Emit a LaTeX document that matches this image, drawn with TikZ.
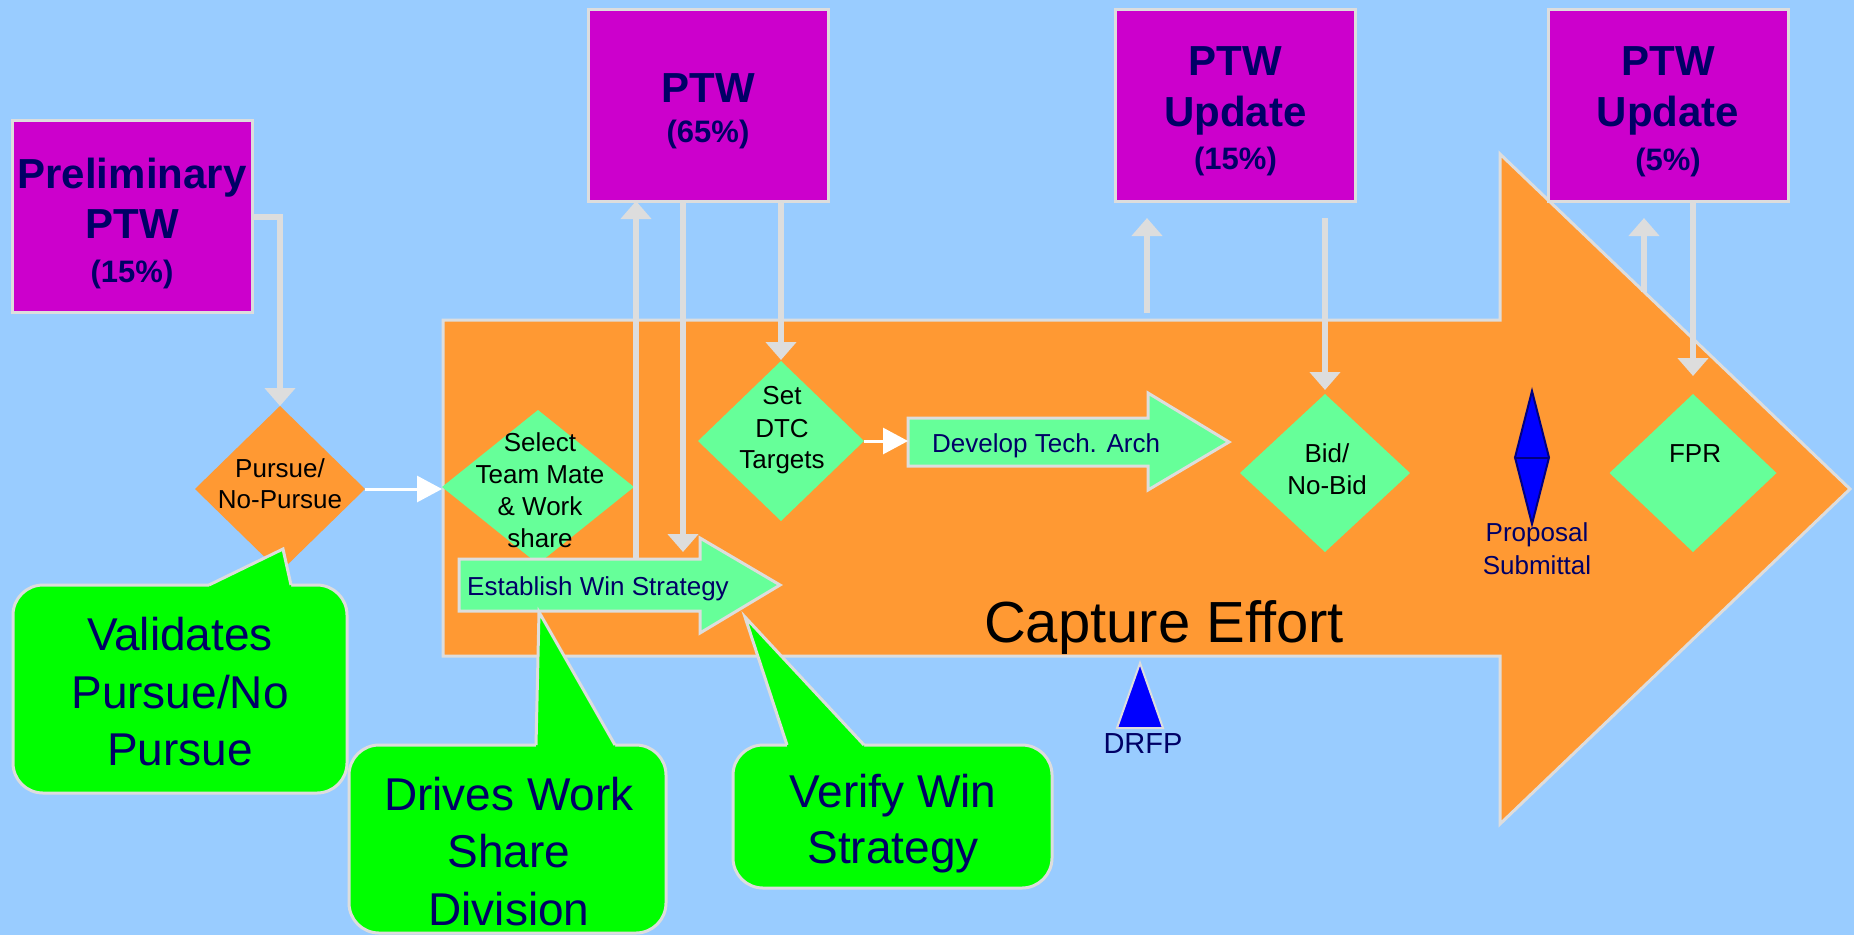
\documentclass[tikz,border=0pt]{standalone}
\usepackage{fontspec}
\setmainfont{Liberation Sans}
\usetikzlibrary{arrows.meta,shapes.geometric}
\definecolor{bgblue}{HTML}{99CCFF}
\definecolor{ptwmag}{HTML}{CC00CC}
\definecolor{capor}{HTML}{FF9933}
\definecolor{stepgreen}{HTML}{66FF99}
\definecolor{notegreen}{HTML}{00FF00}
\definecolor{ink}{HTML}{000066}
\definecolor{rim}{HTML}{DDDDDD}
\definecolor{pblue}{HTML}{0000FF}
\definecolor{pnavy}{HTML}{000080}

\begin{document}
\begin{tikzpicture}[x=1pt,y=-1pt,
  ptwbox/.style={draw=rim, line width=3pt, fill=ptwmag, minimum width=240pt,
    minimum height=192pt, inner sep=0pt, outer sep=0pt},
  gate/.style={diamond, inner sep=0pt, outer sep=0pt},
  flow/.style={draw=rim, line width=6pt, -{Triangle[length=18pt,width=30pt]}},
  feed/.style={draw=white, line width=3pt, -{Triangle[length=25pt,width=26pt]}},
  rimline/.style={draw=rim, line width=3pt, line join=miter},
  big/.style={font=\fontsize{42}{42}\selectfont\bfseries, text=ink, inner sep=0pt, anchor=base},
  pct/.style={font=\fontsize{31}{31}\selectfont\bfseries, text=ink, inner sep=0pt, anchor=base},
  small/.style={font=\fontsize{26}{26}\selectfont, inner sep=0pt, anchor=base},
  note/.style={font=\fontsize{46}{46}\selectfont, text=ink, inner sep=0pt, anchor=base},
  notebox/.style={draw=rim, line width=3pt, fill=notegreen, rounded corners=30pt},
]
\useasboundingbox (0,0) rectangle (1854,935);
\fill[bgblue] (0,0) rectangle (1854,935);

% capture effort block arrow
\draw[rimline, fill=capor] (443,320) -- (1500,320) -- (1500,154) -- (1850,489)
  -- (1500,824) -- (1500,656) -- (443,656) -- cycle;

% PTW boxes
\node[ptwbox] (pre) at (132,216.5) {};
\node[ptwbox] (p65) at (708,105) {};
\node[ptwbox] (p15) at (1235.5,105) {};
\node[ptwbox] (p5)  at (1668,105) {};

% decision diamonds
\node[gate, fill=capor, minimum width=170pt, minimum height=166pt] (pur) at (280,489) {};
\node[gate, fill=stepgreen, minimum width=192pt, minimum height=154pt] (sel) at (538,487) {};
\node[gate, fill=stepgreen, minimum width=166pt, minimum height=160pt] (dtc) at (781,441) {};
\node[gate, fill=stepgreen, minimum width=170pt, minimum height=158pt] (bid) at (1325,473) {};
\node[gate, fill=stepgreen, minimum width=167pt, minimum height=158pt] (fpr) at (1693,473) {};

% proposal submittal marker
\node[gate, draw=pnavy, line width=2pt, fill=pblue, minimum width=34pt, minimum height=133pt] (ps) at (1532,457.5) {};
\draw[pnavy, line width=2pt] (ps.west) -- (ps.east);

% DRFP marker
\draw[draw=rim, line width=2pt, fill=pblue] (1140,663) -- (1163,728) -- (1117,728) -- cycle;

% activity arrows
\draw[rimline, fill=stepgreen] (459,559) -- (700,559) -- (700,538) -- (780,585)
  -- (700,633) -- (700,611) -- (459,611) -- cycle;
\draw[rimline, fill=stepgreen] (908,418) -- (1148,418) -- (1148,393) -- (1229,442)
  -- (1148,490) -- (1148,466) -- (908,466) -- cycle;
\coordinate (estA) at (636,559);
\coordinate (estB) at (683,559);
\coordinate (devA) at (908,442);
\coordinate (u15) at (1147,313);
\coordinate (u5) at (1644,292);

% connectors
\draw[flow] (pre.east) -| (pur.north);
\draw[feed] (pur.east) -- (pur.east -| sel.west);
\draw[flow] (estA) -- (estA |- p65.south);
\draw[flow, shorten >=7pt] (estB |- p65.south) -- (estB);
\draw[flow, shorten >=1pt] (dtc.north |- p65.south) -- (dtc.north);
\draw[feed] (dtc.east) -- (dtc.east -| devA);
\draw[flow, shorten >=17pt] (u15) -- (u15 |- p15.south);
\draw[flow, shorten <=17pt, shorten >=4pt] (bid.north |- p15.south) -- (bid.north);
\draw[flow, shorten >=17pt] (u5) -- (u5 |- p5.south);
\draw[flow, shorten >=18pt] (fpr.north |- p5.south) -- (fpr.north);

% callouts
\draw[notebox] (13,585) rectangle (347,793);
\fill[notegreen] (209,585) -- (283,549) -- (291,585) -- (291,592) -- (209,592) -- cycle;
\draw[rimline] (209,585) -- (283,549) -- (291,585);

\draw[notebox] (349,745) rectangle (666,933);
\fill[notegreen] (536,745) -- (539,612) -- (615,745) -- (615,752) -- (536,752) -- cycle;
\draw[rimline] (536,745) -- (539,612) -- (615,745);

\draw[notebox] (733,745) rectangle (1052,888);
\fill[notegreen] (787,745) -- (745,617) -- (864,745) -- (864,752) -- (787,752) -- cycle;
\draw[rimline] (787,745) -- (745,617) -- (864,745);

% box texts
\node[big] (preA) at (132,188) {Preliminary};
\node[big] (preB) at (132,238) {PTW};
\node[pct] (preC) at (132,282) {(15\%)};
\node[big] (p65A) at (708,102) {PTW};
\node[pct] (p65B) at (708,142) {(65\%)};
\node[big] (p15A) at (1235.5,75) {PTW};
\node[big] (p15B) at (1235.5,126) {Update};
\node[pct] (p15C) at (1235.5,169) {(15\%)};
\node[big] (p5A) at (1668,75) {PTW};
\node[big] (p5B) at (1668,126) {Update};
\node[pct] (p5C) at (1668,170) {(5\%)};

% diamond texts
\node[small] (purA) at (280,477) {Pursue/};
\node[small] (purB) at (280,508) {No-Pursue};
\node[small] (selA) at (540,451) {Select};
\node[small] (selB) at (540,483) {Team Mate};
\node[small] (selC) at (540,515) {\& Work};
\node[small] (selD) at (540,547) {share};
\node[small] (dtcA) at (782,404) {Set};
\node[small] (dtcB) at (782,437) {DTC};
\node[small] (dtcC) at (782,468) {Targets};
\node[small] (bidA) at (1327,462) {Bid/};
\node[small] (bidB) at (1327,494) {No-Bid};
\node[small] (fprA) at (1695,462) {FPR};
\node[small, text=ink] (psA) at (1537,541) {Proposal};
\node[small, text=ink] (psB) at (1537,574) {Submittal};

% arrow labels
\node[small, text=ink, anchor=base west] (estT) at (467,595) {Establish Win Strategy};
\node[small, text=ink, anchor=base west] (devT) at (932,452) {Develop Tech. Arch};
\node[font=\fontsize{58}{58}\selectfont, inner sep=0pt, anchor=base] (cap) at (1164,642) {Capture Effort};
\node[font=\fontsize{29}{29}\selectfont, text=ink, inner sep=0pt, anchor=base] (drfp) at (1143,753) {DRFP};

% callout texts
\node[note] (vA) at (180,650) {Validates};
\node[note] (vB) at (180,708) {Pursue/No};
\node[note] (vC) at (180,765) {Pursue};
\node[note] (dA) at (509,810) {Drives Work};
\node[note] (dB) at (509,867) {Share};
\node[note] (dC) at (509,925) {Division};
\node[note] (wA) at (893,807) {Verify Win};
\node[note] (wB) at (893,863) {Strategy};
\end{tikzpicture}
\end{document}
